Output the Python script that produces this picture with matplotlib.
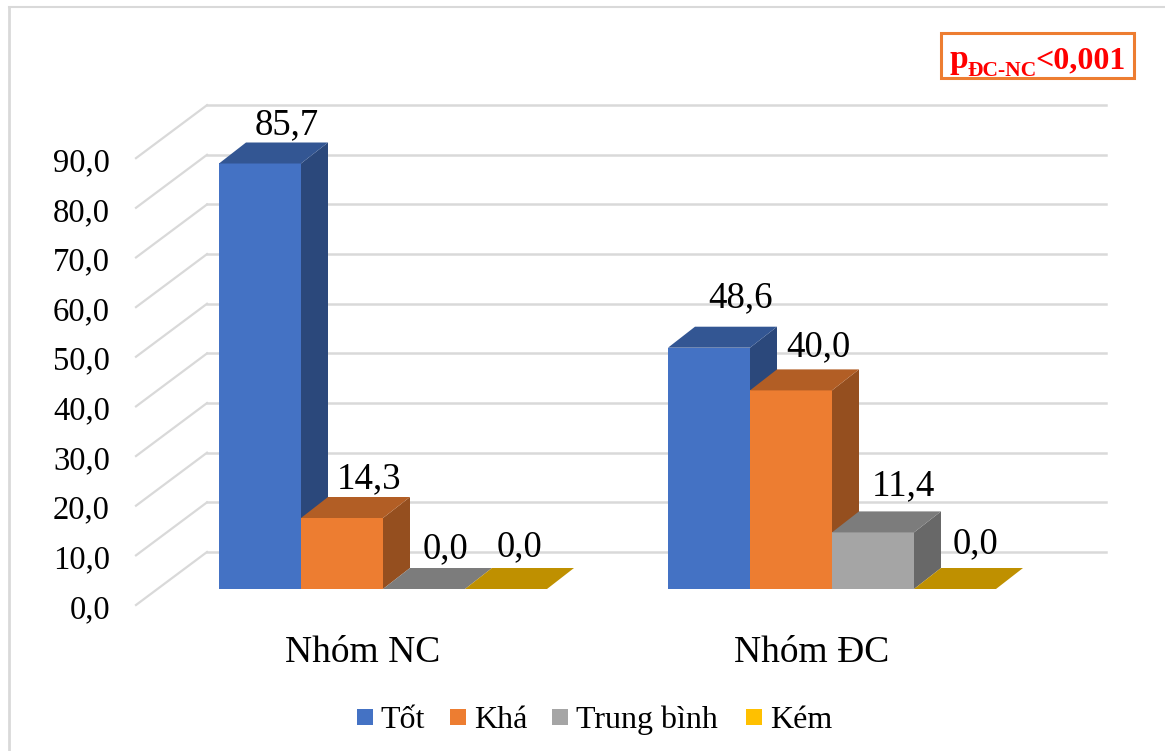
#!/usr/bin/env python3

import numpy as np
import matplotlib
matplotlib.use("Agg")
import matplotlib.pyplot as plt
from matplotlib.patches import Polygon, Rectangle

# Data
groups = ["Nhóm NC", "Nhóm ĐC"]
series = ["Tốt", "Khá", "Trung bình", "Kém"]
nhom_nc = [85.7, 14.3, 0.0, 0.0]
nhom_dc = [48.6, 40.0, 11.4, 0.0]
y_ticks = [0, 10, 20, 30, 40, 50, 60, 70, 80, 90]

colors = ["#4472C4", "#ED7D31", "#A5A5A5", "#FFC000"]

W, H = 1165, 751
plt.rcParams["font.family"] = ["Liberation Serif", "DejaVu Serif"]

# Scales: one x unit is a bar width, y is in percent
px_x = 82.0
px_y = 4.965
x0_px, y0_px = 219.0, 589.0

fig = plt.figure(figsize=(W / 100, H / 100), dpi=100, facecolor="white")
ax = fig.add_axes([0, 0, 1, 1])
ax.set_xlim(-x0_px / px_x, (W - x0_px) / px_x)
ax.set_ylim(-(H - y0_px) / px_y, y0_px / px_y)
ax.axis("off")

# Fake 3D depth of the bars
dx = 27 / px_x
dy = 21 / px_y

# Back wall and floor offsets
wall_x0 = -83 / px_x
wall_x1 = -12 / px_x
wall_x2 = 887 / px_x
wall_front = -16 / px_y
wall_back = 37 / px_y

grid_color = "#d9d9d9"
for v in y_ticks:
    ax.plot([wall_x0, wall_x1], [v + wall_front, v + wall_back], color=grid_color, lw=1.6, zorder=1)
    ax.plot([wall_x1, wall_x2], [v + wall_back, v + wall_back], color=grid_color, lw=1.8, zorder=1)
    ax.text(wall_x0 - 26 / px_x, v + wall_front - 13 / px_y, f"{v:.1f}".replace(".", ","),
            ha="right", va="baseline", fontsize=23.5, color="black", zorder=5)


def shade(c, f):
    r, g, b = matplotlib.colors.to_rgb(c)
    return (r * f, g * f, b * f)


def bar3d(x, v, c, z):
    # front face, side face and top face
    if v > 0:
        ax.add_patch(Rectangle((x, 0), 1, v, fc=c, ec="none", zorder=z))
        ax.add_patch(Polygon([(x + 1, 0), (x + 1 + dx, dy), (x + 1 + dx, v + dy), (x + 1, v)],
                             fc=shade(c, 0.63), ec="none", zorder=z))
    ax.add_patch(Polygon([(x, v), (x + dx, v + dy), (x + 1 + dx, v + dy), (x + 1, v)],
                         fc=shade(c, 0.75), ec="none", zorder=z))


group_x = [0.0, 449 / px_x]

# Nudges for the value labels, (x px, y px above bar top)
label_nudge = [
    [(27, 39), (27, 39), (21, 40), (13, 42)],
    [(32, 50), (27, 43), (30, 46), (21, 45)],
]

for g, vals in enumerate([nhom_nc, nhom_dc]):
    for i, v in enumerate(vals):
        x = group_x[g] + i
        bar3d(x, v, colors[i], 3 + i)
        nx, ny = label_nudge[g][i]
        ax.text(x + 0.5 + nx / px_x, v + ny / px_y, f"{v:.1f}".replace(".", ","),
                ha="center", va="center", fontsize=26.5, color="black", zorder=10)
    ax.text(group_x[g] + 2 - 0.25, -(653 - y0_px) / px_y, groups[g],
            ha="center", va="center", fontsize=27, color="black", zorder=10)


def fx(px):
    return px / W


def fy(py):
    return 1 - py / H


# Legend
swatch_x = [357, 450, 552, 746]
text_x = [380, 474, 576, 770]
for i, s in enumerate(series):
    fig.patches.append(Rectangle((fx(swatch_x[i]), fy(725)), 16 / W, 16 / H, transform=fig.transFigure,
                                 fc=colors[i], ec="none"))
    fig.text(fx(text_x[i]), fy(720), s, ha="left", va="center", fontsize=23, color="black")

# Outer frame, only top and left edges show
fig.add_artist(plt.Line2D([fx(9), 1], [fy(7), fy(7)], color=grid_color, lw=1.5))
fig.add_artist(plt.Line2D([fx(9), fx(9)], [fy(7), 0], color=grid_color, lw=2))

# p-value box
fig.patches.append(Rectangle((fx(941), fy(78)), 193 / W, 45 / H, transform=fig.transFigure,
                             fc="white", ec="#ED7D31", lw=2.2))
fig.text(fx(950), fy(68), "p", fontsize=24, fontweight="bold", color="#FF0000", ha="left", va="baseline")
fig.text(fx(967), fy(76), "ĐC-NC", fontsize=15.5, fontweight="bold", color="#FF0000", ha="left", va="baseline")
fig.text(fx(1035), fy(68), "<0,001", fontsize=23, fontweight="bold", color="#FF0000", ha="left", va="baseline")

fig.savefig("out.png", dpi=100)
